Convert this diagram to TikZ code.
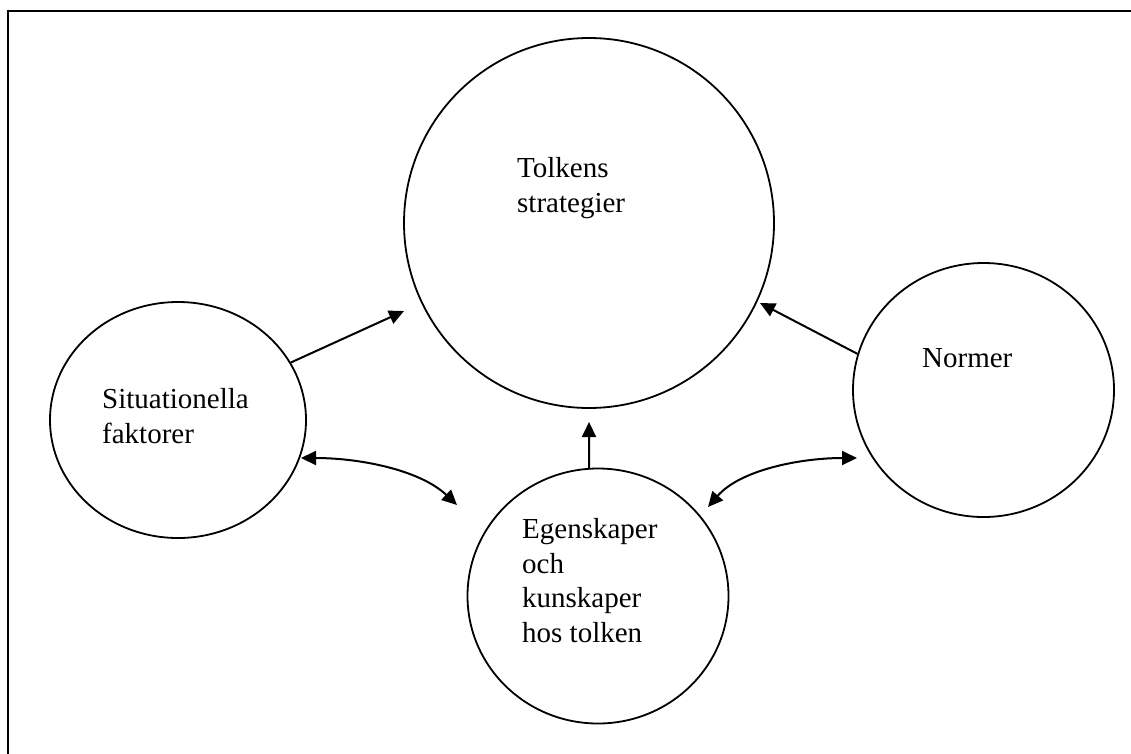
\documentclass[tikz,border=0pt]{standalone}
\usepackage{fontspec}
\setmainfont{Liberation Serif}
\usetikzlibrary{arrows.meta,shapes.geometric}
\begin{document}
\begin{tikzpicture}[x=1pt,y=-1pt,
  bubble/.style={draw, ellipse, line width=1.8pt, inner sep=0pt},
  lbl/.style={anchor=base west, inner sep=0pt, align=left,
    font=\fontsize{29}{34.5}\selectfont},
  tip/.tip={Triangle[length=15pt,width=14pt]},
  conn/.style={line width=2pt, -tip},
  twoway/.style={line width=2pt, tip-tip},
]
\useasboundingbox (0,0) rectangle (1131,753);

% outer frame (only its top and left edges fall on the page)
\draw[line width=2pt] (1140,11) -- (7.7,11) -- (7.7,760);

% the four bubbles
\node[bubble, minimum width=370pt, minimum height=370pt] (goal) at (589,223) {};
\node[bubble, minimum width=256pt, minimum height=236pt] (sit) at (178,420) {};
\node[bubble, minimum width=261pt, minimum height=255pt] (own) at (598,596) {};
\node[bubble, minimum width=261pt, minimum height=254pt] (norm) at (983.5,390) {};

% texts (a multi-line node sits on the baseline of its last line)
\node[lbl] (goaltxt) at (517,212) {Tolkens\\strategier};
\node[lbl] (sittxt) at (102,443) {Situationella\\faktorer};
\node[lbl] (owntxt) at (522,642) {Egenskaper\\och\\kunskaper\\hos tolken};
\node[lbl] (normtxt) at (922,367) {Normer};

% arrow ends that stop short of the central bubble
\coordinate (sitend) at (404,311);
\coordinate (normend) at (760,303);
\coordinate (ownend) at (589,422);
\coordinate (sitL) at (301,458);
\coordinate (ownL) at (457,505);
\coordinate (ownR) at (708,507);
\coordinate (normR) at (857,458);

% influences on the strategies
\draw[conn] (sit.27) -- (sitend);
\draw[conn] (norm.164) -- (normend);
\draw[conn] (own.94) -- (ownend);

% mutual influences
\draw[twoway] (sitL) .. controls (360,458) and (420,470) .. (ownL);
\draw[twoway] (ownR) .. controls (740,470) and (800,458) .. (normR);
\end{tikzpicture}
\end{document}
